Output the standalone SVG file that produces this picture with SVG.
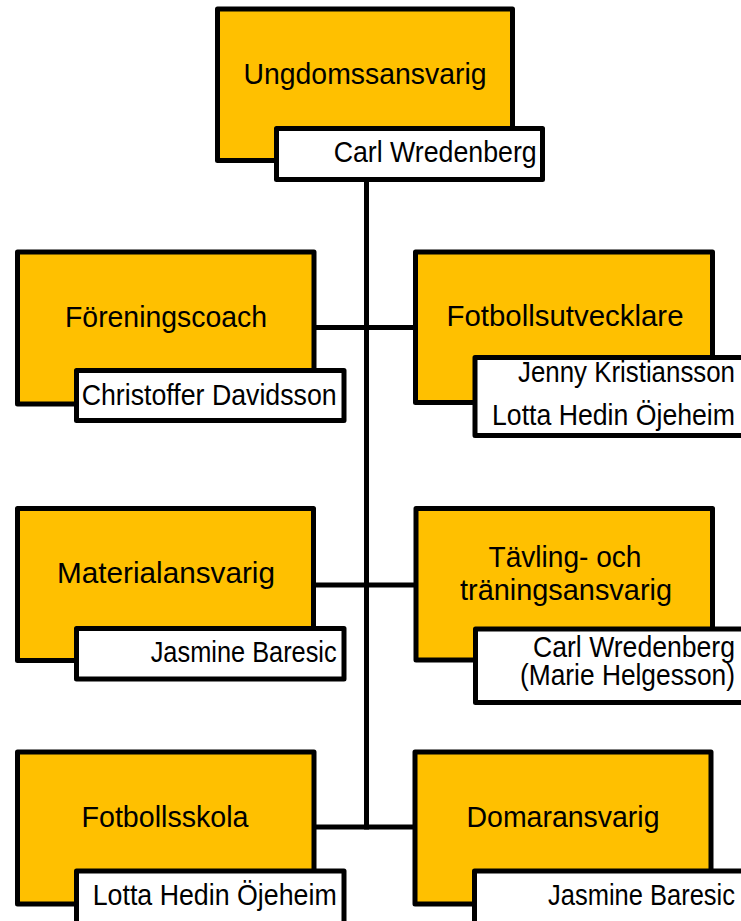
<svg xmlns="http://www.w3.org/2000/svg" width="741" height="921" viewBox="0 0 741 921">
<style>
.role{fill:#FFC000;stroke:#000;stroke-width:5;stroke-linejoin:round}
.name{fill:#FFF;stroke:#000;stroke-width:5;stroke-linejoin:round}
.t{font-family:"Liberation Sans",Arial,sans-serif;font-size:29px;fill:#000}
.c{text-anchor:middle}
.r{text-anchor:end}
.ln{stroke:#000;stroke-width:5;fill:none}
</style>
<g id="connectors">
<line class="ln" x1="366.5" y1="180" x2="366.5" y2="829.5"/>
<line class="ln" x1="314" y1="327.5" x2="416" y2="327.5"/>
<line class="ln" x1="313.5" y1="585" x2="416" y2="585"/>
<line class="ln" x1="314" y1="827" x2="415" y2="827"/>
</g>
<g id="ungdomsansvarig">
<rect class="role" x="217.5" y="9" width="295" height="151.5"/>
<rect class="name" x="276.5" y="128.5" width="266" height="51"/>
<text class="t c" x="365" y="84" textLength="243" lengthAdjust="spacingAndGlyphs">Ungdomssansvarig</text>
<text class="t r" x="536.7" y="162" textLength="203" lengthAdjust="spacingAndGlyphs">Carl Wredenberg</text>
</g>
<g id="foreningscoach">
<rect class="role" x="17.5" y="252" width="296.5" height="152"/>
<rect class="name" x="76.5" y="370.5" width="267.5" height="50"/>
<text class="t c" x="166" y="327" textLength="202" lengthAdjust="spacingAndGlyphs">Föreningscoach</text>
<text class="t r" x="336.7" y="405" textLength="255" lengthAdjust="spacingAndGlyphs">Christoffer Davidsson</text>
</g>
<g id="fotbollsutvecklare">
<rect class="role" x="415.5" y="252" width="297" height="150.5"/>
<rect class="name" x="475" y="357.5" width="270" height="78"/>
<text class="t c" x="565" y="326" textLength="237" lengthAdjust="spacingAndGlyphs">Fotbollsutvecklare</text>
<text class="t r" x="735" y="382" textLength="217" lengthAdjust="spacingAndGlyphs">Jenny Kristiansson</text>
<text class="t r" x="735" y="425" textLength="243" lengthAdjust="spacingAndGlyphs">Lotta Hedin Öjeheim</text>
</g>
<g id="materialansvarig">
<rect class="role" x="17.5" y="508.5" width="296" height="152"/>
<rect class="name" x="76.5" y="628.5" width="267.5" height="50.5"/>
<text class="t c" x="166" y="583" textLength="218" lengthAdjust="spacingAndGlyphs">Materialansvarig</text>
<text class="t r" x="336.7" y="662" textLength="186" lengthAdjust="spacingAndGlyphs">Jasmine Baresic</text>
</g>
<g id="tavlingsansvarig">
<rect class="role" x="416" y="508.5" width="296.5" height="151.5"/>
<rect class="name" x="475.5" y="629" width="270" height="73.5"/>
<text class="t c" x="565" y="567" textLength="153" lengthAdjust="spacingAndGlyphs">Tävling- och</text>
<text class="t c" x="566" y="600" textLength="212" lengthAdjust="spacingAndGlyphs">träningsansvarig</text>
<text class="t r" x="735" y="657" textLength="202" lengthAdjust="spacingAndGlyphs">Carl Wredenberg</text>
<text class="t r" x="735" y="685" textLength="215" lengthAdjust="spacingAndGlyphs">(Marie Helgesson)</text>
</g>
<g id="fotbollsskola">
<rect class="role" x="17.5" y="752" width="296.5" height="152"/>
<rect class="name" x="76.5" y="871" width="267.5" height="60"/>
<text class="t c" x="165" y="827" textLength="167" lengthAdjust="spacingAndGlyphs">Fotbollsskola</text>
<text class="t r" x="336.7" y="905" textLength="244" lengthAdjust="spacingAndGlyphs">Lotta Hedin Öjeheim</text>
</g>
<g id="domaransvarig">
<rect class="role" x="415" y="752" width="296" height="152"/>
<rect class="name" x="474.5" y="871" width="271" height="60"/>
<text class="t c" x="563" y="827" textLength="193" lengthAdjust="spacingAndGlyphs">Domaransvarig</text>
<text class="t r" x="735" y="905" textLength="187" lengthAdjust="spacingAndGlyphs">Jasmine Baresic</text>
</g>
</svg>
